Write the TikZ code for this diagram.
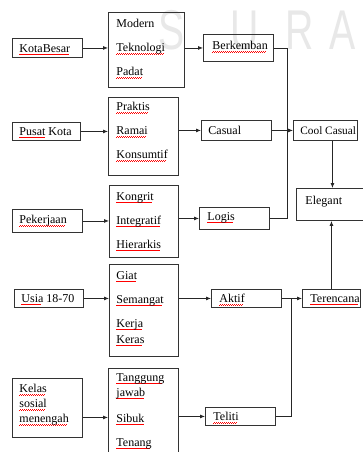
\documentclass[tikz,border=0pt]{standalone}
\usepackage{fontspec}
\setmainfont{Liberation Serif}
\newfontfamily\wmfont{Liberation Sans}
\usepackage{graphicx}
\usetikzlibrary{arrows.meta}
\newsavebox\wavebox
\newcommand\rwave[1]{\leavevmode\sbox\wavebox{#1}\rlap{\textcolor{red}{\raisebox{-2.6pt}{\hbox to \wd\wavebox{\leaders\hbox to 2pt{\rule{1pt}{0.55pt}\rule[0.55pt]{1pt}{0.55pt}}\hfill}}}}\usebox\wavebox}
\newcommand\boxtext[5]{\parbox[c][#2][t]{#1}{\leftskip=#3\relax\rightskip=0pt plus 1fil\relax\vspace*{#4}#5}}
\tikzset{
  bx/.style={draw=black!80, line width=0.9pt, inner sep=0pt, anchor=north west,
    font=\fontsize{12}{24}\selectfont},
  arr/.style={draw=black!85, line width=0.8pt, -{Latex[length=5pt,width=4pt]}},
  ln/.style={draw=black!85, line width=0.8pt},
  wm/.style={text=black!9, inner sep=0pt, anchor=base,
    font=\wmfont\fontsize{56}{56}\selectfont}
}
\begin{document}
\begin{tikzpicture}[x=1pt,y=-1pt]
\useasboundingbox (0,0) rectangle (363,452);
\clip (0,0) rectangle (363,452);
\fill[white] (0,0) rectangle (363,452);
% watermark
\node[wm] (w1) at (172,50) {\scalebox{0.7}[1]{S}};
\node[wm] (w2) at (245,50) {\scalebox{0.7}[1]{U}};
\node[wm] (w3) at (300,50) {\scalebox{0.7}[1]{R}};
\node[wm] (w4) at (343,50) {\scalebox{0.7}[1]{A}};
% left column
\node[bx] (kb) at (12,38) {\boxtext{70pt}{19pt}{7pt}{6pt}{\rwave{KotaBesar}}};
\node[bx] (pk) at (12,122) {\boxtext{68pt}{18pt}{7pt}{5pt}{\mbox{\rwave{Pusat} Kota}}};
\node[bx] (pj) at (12,209) {\boxtext{70pt}{23pt}{7pt}{6pt}{\rwave{Pekerjaan}}};
\node[bx] (us) at (14,289) {\boxtext{69pt}{18pt}{7pt}{5pt}{\mbox{\rwave{Usia} 18-70}}};
\node[bx] (kl) at (12,378) {\boxtext{70pt}{59pt}{7pt}{6pt}{\baselineskip=15pt \rwave{Kelas}\\\rwave{sosial}\\\rwave{menengah}}};
% middle column
\node[bx] (m1) at (108,12) {\boxtext{76pt}{75pt}{8pt}{7pt}{Modern\\\rwave{Teknologi}\\\rwave{Padat}}};
\node[bx] (m2) at (108,97) {\boxtext{70pt}{78pt}{8pt}{5pt}{\rwave{Praktis}\\\rwave{Ramai}\\\rwave{Konsumtif}}};
\node[bx] (m3) at (109,185) {\boxtext{69pt}{72pt}{7pt}{7pt}{\rwave{Kongrit}\\\rwave{Integratif}\\\rwave{Hierarkis}}};
\node[bx] (m4) at (109,264) {\boxtext{69pt}{92pt}{7pt}{7pt}{\rwave{Giat}\\\rwave{Semangat}\\\rwave{Kerja}\\[-8pt]\rwave{Keras}}};
\node[bx] (m5) at (108,368) {\boxtext{70pt}{100pt}{8pt}{5pt}{\rwave{Tanggung}\\[-9pt]\rwave{jawab}\\[2pt]\rwave{Sibuk}\\\rwave{Tenang}}};
% third column
\node[bx] (bk) at (203,34) {\boxtext{70pt}{27pt}{9pt}{7pt}{\rwave{Berkemban}}};
\node[bx] (cs) at (201,120) {\boxtext{70pt}{20pt}{7pt}{6pt}{Casual}};
\node[bx] (lg) at (199,207) {\boxtext{70pt}{22pt}{8pt}{5pt}{\rwave{Logis}}};
\node[bx] (ak) at (211,289) {\boxtext{70pt}{18pt}{8pt}{5pt}{\rwave{Aktif}}};
\node[bx] (tl) at (205,407) {\boxtext{70pt}{18pt}{8pt}{5pt}{\rwave{Teliti}}};
% fourth column
\node[bx] (cc) at (293,120) {\boxtext{64pt}{20pt}{7pt}{6pt}{\mbox{\fontsize{11.3}{24}\selectfont Cool Casual}}};
\node[bx] (el) at (296,188) {\boxtext{80pt}{32pt}{9pt}{8pt}{Elegant}};
\node[bx] (tr) at (302,289) {\boxtext{58pt}{18pt}{8pt}{5pt}{\mbox{\rwave{Terencana}}}};
% connectors left -> middle
\draw[arr] (kb.east) -- (kb.east -| m1.west);
\draw[arr] (pk.east) -- (pk.east -| m2.west);
\draw[arr] (pj.east) -- (pj.east -| m3.west);
\draw[arr] (us.east) -- (us.east -| m4.west);
\draw[arr] ([yshift=-9.5pt]kl.east) -- ([yshift=-9.5pt]kl.east -| m5.west);
% middle -> third
\draw[arr] (m1.east |- bk.west) -- (bk.west);
\draw[arr] (m2.east |- cs.west) -- (cs.west);
\draw[arr] (m3.east |- lg.west) -- (lg.west);
\draw[arr] (m4.east |- ak.west) -- (ak.west);
\draw[arr] (m5.east |- tl.west) -- (tl.west);
% third -> fourth
\draw[ln] (bk.east) -- ++(13,0) |- (lg.east);
\draw[arr] (cs.east) -- (cc.west);
\draw[arr] ([xshift=7pt]cc.south) -- ([xshift=7pt]cc.south |- el.north);
\draw[arr] (tr.north) -- (tr.north |- el.south);
\draw[arr] (ak.east) -- (tr.west);
\draw[ln] (tl.east) -- ++(15,0) coordinate (j) -- (j |- ak.east);
\end{tikzpicture}
\end{document}
